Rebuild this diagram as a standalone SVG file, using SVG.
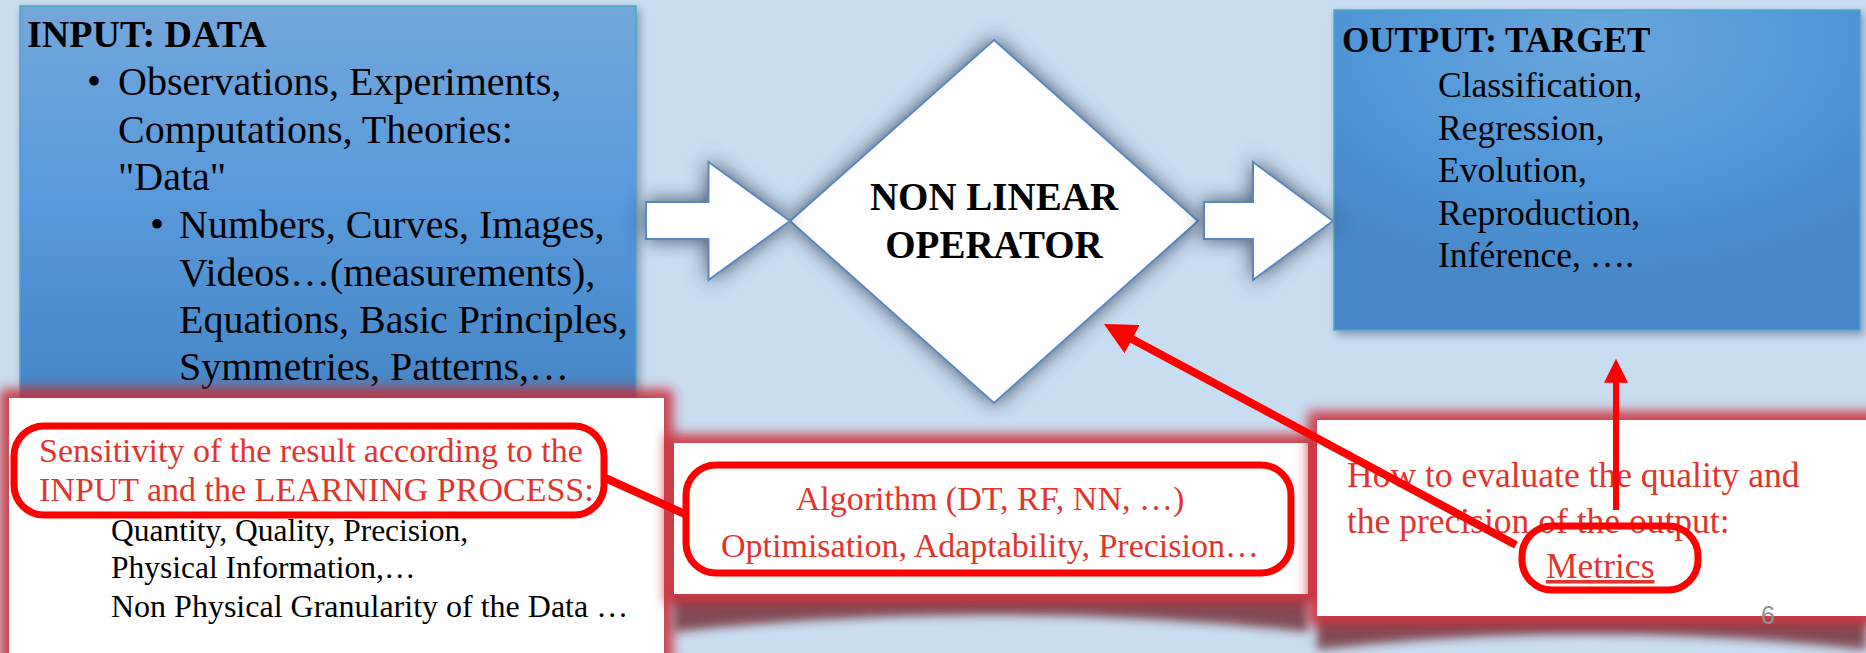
<svg xmlns="http://www.w3.org/2000/svg" width="1866" height="653" viewBox="0 0 1866 653">
<style>
  .ser { font-family: "Liberation Serif", "Times New Roman", serif; }
  .blk { fill: #000; }
  .red { fill: #e3342c; }
  .title { font-weight: bold; }
  .blockarrow { fill: #ffffff; stroke: #5a87c0; stroke-width: 2; }
  .redline { stroke: #ff0000; fill: none; }
  .redframe { fill: none; stroke: #ff0000; stroke-width: 7; }
  .wbox { fill: #ffffff; }
</style>
<defs>
  <linearGradient id="gIn" x1="0" y1="0" x2="0" y2="1">
    <stop offset="0" stop-color="#73a7db"/>
    <stop offset="0.45" stop-color="#5a9bdc"/>
    <stop offset="0.94" stop-color="#4688c8"/>
    <stop offset="1" stop-color="#5a78a8"/>
  </linearGradient>
  <radialGradient id="gOut" cx="0.5" cy="0.1" r="0.75">
    <stop offset="0" stop-color="#68a6dd"/>
    <stop offset="0.6" stop-color="#5096d8"/>
    <stop offset="1" stop-color="#4687c7"/>
  </radialGradient>
  <filter id="boxShadow" x="-5%" y="-5%" width="115%" height="115%">
    <feDropShadow dx="3" dy="4" stdDeviation="4" flood-color="#1c2c44" flood-opacity="0.4"/>
  </filter>
  <filter id="darkGlow" x="-20%" y="-20%" width="140%" height="140%">
    <feGaussianBlur in="SourceAlpha" stdDeviation="10" result="b"/>
    <feFlood flood-color="#2a3b52" flood-opacity="0.85"/>
    <feComposite operator="in" in2="b" result="g"/>
    <feMerge><feMergeNode in="g"/><feMergeNode in="SourceGraphic"/></feMerge>
  </filter>
  <filter id="redGlow" x="-10%" y="-30%" width="120%" height="170%">
    <feMorphology in="SourceAlpha" operator="dilate" radius="9" result="d"/>
    <feGaussianBlur in="d" stdDeviation="6" result="b"/>
    <feFlood flood-color="#cc2630" flood-opacity="0.85"/>
    <feComposite operator="in" in2="b" result="g"/>
    <feMerge><feMergeNode in="g"/><feMergeNode in="SourceGraphic"/></feMerge>
  </filter>
  <filter id="blur5" x="-10%" y="-50%" width="120%" height="200%">
    <feGaussianBlur stdDeviation="5"/>
  </filter>
  <marker id="redHead" markerUnits="strokeWidth" markerWidth="4" markerHeight="4" refX="0.3" refY="2" orient="auto" viewBox="0 0 4 4">
    <path d="M0,0 L4,2 L0,4 Z" fill="#ff0000"/>
  </marker>
</defs>

<rect x="0" y="0" width="1866" height="653" fill="#c9ddf1"/>

<g id="input-node">
  <rect x="20" y="6" width="616" height="392" fill="url(#gIn)" stroke="#4aa8c8" stroke-width="1.5" filter="url(#boxShadow)"/>
  <text class="ser title blk" x="27" y="47" font-size="38">INPUT: DATA</text>
  <text class="ser blk" x="87" y="95" font-size="40">•</text>
  <text class="ser blk" x="118" y="95" font-size="40">Observations, Experiments,</text>
  <text class="ser blk" x="118" y="143" font-size="40">Computations, Theories:</text>
  <text class="ser blk" x="118" y="190" font-size="40">"Data"</text>
  <text class="ser blk" x="150" y="238" font-size="40">•</text>
  <text class="ser blk" x="179" y="238" font-size="40">Numbers, Curves, Images,</text>
  <text class="ser blk" x="179" y="286" font-size="40">Videos…(measurements),</text>
  <text class="ser blk" x="179" y="333" font-size="40">Equations, Basic Principles,</text>
  <text class="ser blk" x="179" y="380" font-size="40">Symmetries, Patterns,…</text>
</g>

<g id="output-node">
  <rect x="1334" y="10" width="526" height="320" fill="url(#gOut)" stroke="#4aa8c8" stroke-width="1.5" filter="url(#boxShadow)"/>
  <text class="ser title blk" x="1342" y="52" font-size="35">OUTPUT: TARGET</text>
  <text class="ser blk" x="1438" y="97" font-size="35.5">Classification,</text>
  <text class="ser blk" x="1438" y="140" font-size="35.5">Regression,</text>
  <text class="ser blk" x="1438" y="182" font-size="35.5">Evolution,</text>
  <text class="ser blk" x="1438" y="225" font-size="35.5">Reproduction,</text>
  <text class="ser blk" x="1438" y="267" font-size="35.5">Inférence, ….</text>
</g>

<g id="operator-node">
  <polygon points="994,40 1198,221 994,403 790,221" fill="#ffffff" stroke="#5a87c0" stroke-width="2" filter="url(#darkGlow)"/>
  <text class="ser title blk" x="994" y="210" font-size="39" text-anchor="middle">NON LINEAR</text>
  <text class="ser title blk" x="994" y="258" font-size="39" text-anchor="middle">OPERATOR</text>
</g>

<g id="sensitivity-node">
  <rect class="wbox" x="9" y="398" width="655" height="270" filter="url(#redGlow)"/>
  <rect class="redframe" x="14" y="426" width="590" height="89" rx="30"/>
  <text class="ser red" x="39" y="462" font-size="34">Sensitivity of the result according to the</text>
  <text class="ser red" x="39" y="501" font-size="34">INPUT and the LEARNING PROCESS:</text>
  <text class="ser blk" x="111" y="541" font-size="31.5">Quantity, Quality, Precision,</text>
  <text class="ser blk" x="111" y="578" font-size="31.5">Physical Information,…</text>
  <text class="ser blk" x="111" y="617" font-size="32">Non Physical Granularity of the Data …</text>
</g>

<g id="algorithm-node">
  <path d="M674,594 H1308 V632 Q991,598 674,632 Z" fill="#6a1f22" opacity="0.75" filter="url(#blur5)"/>
  <rect class="wbox" x="674" y="443" width="634" height="151" filter="url(#redGlow)"/>
  <rect class="redframe" x="686" y="465" width="605" height="108" rx="30"/>
  <text class="ser red" x="990" y="510" font-size="34" text-anchor="middle">Algorithm (DT, RF, NN, …)</text>
  <text class="ser red" x="990" y="557" font-size="34" text-anchor="middle">Optimisation, Adaptability, Precision…</text>
</g>

<g id="metrics-node">
  <path d="M1317,616 H1866 V650 Q1590,618 1317,650 Z" fill="#6a1f22" opacity="0.75" filter="url(#blur5)"/>
  <rect class="wbox" x="1317" y="420" width="560" height="196" filter="url(#redGlow)"/>
  <text class="ser red" x="1347" y="487" font-size="35.5">How to evaluate the quality and</text>
  <text class="ser red" x="1347" y="533" font-size="35.5">the precision of the output:</text>
  <text class="ser red" x="1546" y="578" font-size="35.5" text-decoration="underline">Metrics</text>
  <rect class="redframe" x="1522" y="526" width="176" height="64" rx="30"/>
  <text x="1761" y="624" font-family="Liberation Sans, Arial, sans-serif" font-size="25" fill="#8f8f8f">6</text>
</g>

<g id="connectors">
  <polygon class="blockarrow" points="646,202 708.5,202 708.5,162 790,221 708.5,280 708.5,239 646,239" filter="url(#darkGlow)"/>
  <polygon class="blockarrow" points="1204,202 1253,202 1253,162 1333,221 1253,280 1253,239 1204,239" filter="url(#darkGlow)"/>
  <line class="redline" x1="603" y1="477" x2="687" y2="515" stroke-width="8"/>
  <line class="redline" x1="1516" y1="545" x2="1130" y2="338" stroke-width="8" marker-end="url(#redHead)"/>
  <line class="redline" x1="1616" y1="510" x2="1616" y2="381" stroke-width="6" marker-end="url(#redHead)"/>
</g>
</svg>
